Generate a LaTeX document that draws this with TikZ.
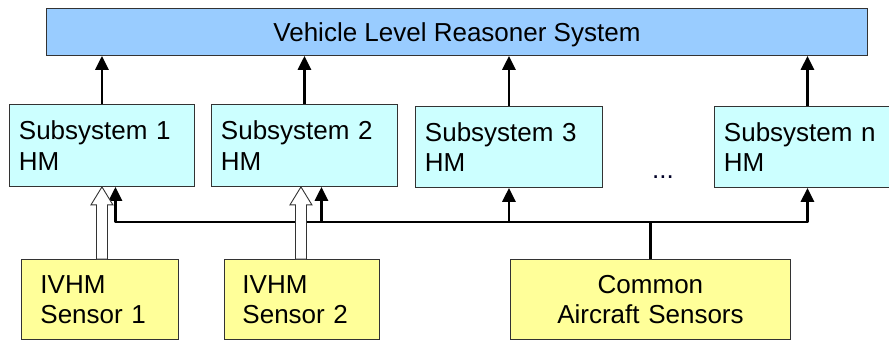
\documentclass[tikz,border=0pt]{standalone}
\usepackage{fontspec}
\setmainfont{Liberation Sans}
\usetikzlibrary{arrows.meta,calc}
\definecolor{topblue}{HTML}{99CCFF}
\definecolor{subcyan}{HTML}{CCFFFF}
\definecolor{senyellow}{HTML}{FFFF99}
\definecolor{edge}{HTML}{333333}
\tikzset{
  boxbase/.style={draw=edge, line width=0.9pt, anchor=north west, inner ysep=0pt,
    font=\fontsize{26}{30.5}\selectfont},
  topbox/.style={boxbase, fill=topblue, inner xsep=0pt},
  subbox/.style={boxbase, fill=subcyan, inner xsep=9.5pt, align=left},
  senbox/.style={boxbase, fill=senyellow, align=left},
  combox/.style={boxbase, fill=senyellow, inner xsep=0pt, align=center},
  upline/.style={line width=2.8pt, line join=round, -{Triangle[length=14pt,width=13pt]}},
  busline/.style={line width=2.8pt, line join=round},
  hollow/.style={draw=edge, line width=0.9pt, fill=white, line join=miter},
}
\newcommand\fatarrow[2]{%
  \draw[hollow] ($(#1)+(-5.5,0)$) -- ($(#2)+(-5.5,18)$) -- ($(#2)+(-11,18)$)
    -- (#2) -- ($(#2)+(11,18)$) -- ($(#2)+(5.5,18)$) -- ($(#1)+(5.5,0)$) -- cycle;}
\begin{document}
\begin{tikzpicture}[x=1pt,y=-1pt]
\useasboundingbox (0,0) rectangle (889,340);
% top
\node[topbox, minimum width=821pt, minimum height=47pt] (top) at (46,8) {\raisebox{-2.5pt}[\height][\depth]{Vehicle Level Reasoner System}};
% subsystems
\node[subbox, minimum width=185pt, text width=166pt, minimum height=82pt] (sub1) at (9,104) {Subsystem 1\\HM};
\node[subbox, minimum width=186pt, text width=167pt, minimum height=82pt] (sub2) at (211,104) {Subsystem 2\\HM};
\node[subbox, minimum width=187pt, text width=168pt, minimum height=81pt] (sub3) at (415,106) {Subsystem 3\\HM};
\node[subbox, minimum width=186pt, text width=167pt, minimum height=81pt] (subn) at (714,106) {Subsystem n\\HM};
\node[font=\fontsize{26}{30}\selectfont, color=black!85!blue, anchor=base, inner sep=0pt] (dots) at (663,178) {...};
% sensors
\node[senbox, inner xsep=19pt, minimum width=157pt, text width=119pt, minimum height=80pt] (s1) at (21,259) {IVHM\\Sensor 1};
\node[senbox, inner xsep=18pt, minimum width=155pt, text width=119pt, minimum height=80pt] (s2) at (224,259) {IVHM\\Sensor 2};
\node[combox, minimum width=280pt, text width=280pt, minimum height=80pt] (com) at (510,259) {Common\\Aircraft Sensors};
% arrows to top
\foreach \n in {sub1,sub2,sub3,subn}
  \draw[upline] (\n.north) -- (\n.north |- top.south);
% bus
\coordinate (jn) at ($(com.north)+(0,-37)$);
\coordinate (b1) at ($(sub1.south)+(13.5,0)$);
\coordinate (b2) at ($(sub2.south)+(17,0)$);
\draw[busline] (com.north) -- (jn);
\draw[upline] (jn) -| (b1);
\draw[upline] (jn) -| (b2);
\draw[upline] (jn) -| (sub3.south);
\draw[upline] (jn) -| (subn.south);
% hollow arrows
\coordinate (h1) at ($(s1.north)+(2,0)$);
\coordinate (h2) at ($(s2.north)+(-1,0)$);
\fatarrow{h1}{h1 |- sub1.south}
\fatarrow{h2}{h2 |- sub2.south}
\end{tikzpicture}
\end{document}
